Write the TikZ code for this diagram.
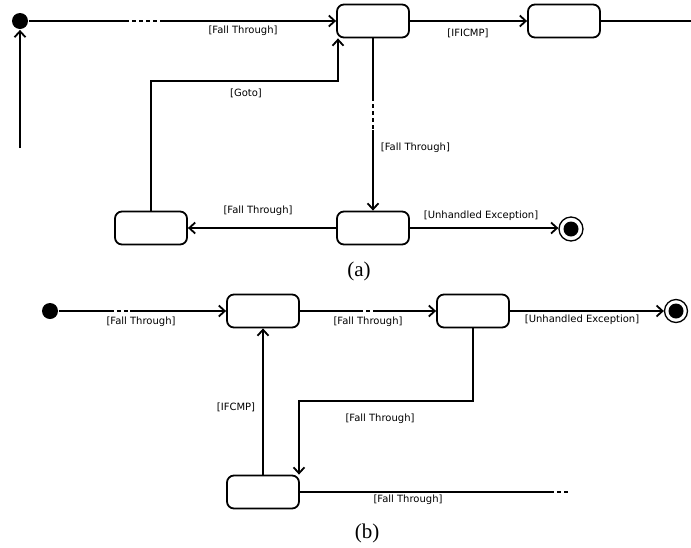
\documentclass[tikz,border=0pt]{standalone}
\usepackage{fontspec}
\newfontfamily\lblfont{DejaVu Sans}
\newfontfamily\capfont{Liberation Serif}
\usepackage{tikz}
\usetikzlibrary{arrows.meta}

\tikzset{
	state/.style={draw, rounded corners=7pt, minimum width=72pt, minimum height=33pt, inner sep=0pt, line width=1.8pt},
	initial/.style={circle, fill=black, minimum size=16pt, inner sep=0pt},
	final/.style={circle, draw, line width=1.3pt, minimum size=24pt, inner sep=0pt, path picture={\fill[black] (path picture bounding box.center) circle (7.5pt);}},
	lbl/.style={font=\lblfont\fontsize{10}{12}\selectfont, inner sep=0pt},
	caption/.style={font=\capfont\fontsize{21}{24}\selectfont, inner sep=0pt},
	dashpart/.style={dash pattern=on 4pt off 3pt}
}

\begin{document}
\begin{tikzpicture}[x=1pt, y=-1pt, line width=1.8pt, >={Straight Barb[length=6pt,width=11pt]}]
	\useasboundingbox (0,0) rectangle (691,547);
	% (a)
	\node[initial] (ainit) at (20,21) {};
	\node[state] (as1) at (373,21) {};
	\node[state] (as2) at (564,21) {};
	\node[state] (as3) at (151,228) {};
	\node[state] (as4) at (373,228) {};
	\node[final] (afin) at (571,229) {};
	\coordinate (ain) at (20,148);
	\coordinate (aout) at (691,21);
	\coordinate (ad1) at (125,21);
	\coordinate (ad2) at (163,21);
	\coordinate (ad3) at (373,97);
	\coordinate (ad4) at (373,130);
	\coordinate (agoto) at (338,81);
	\draw (ainit) -- (ad1);
	\draw[dashpart] (ad1) -- (ad2);
	\draw[->] (ad2) -- (as1.west |- ad2);
	\draw[->] (as1) -- (as2);
	\draw (as2) -- (aout);
	\draw[->] (ain) -- (ainit);
	\draw[->] (as3.north) |- (agoto) -- (agoto |- as1.south);
	\draw (as1.south) -- (ad3);
	\draw[dashpart] (ad3) -- (ad4);
	\draw[->] (ad4) -- (as4.north);
	\draw[->] (as4) -- (as3);
	\draw[->] (as4.east) -- (afin.west |- as4.east);
	\node[lbl] (al1) at (243,31) {[Fall Through]};
	\node[lbl] (al2) at (468,33) {[IFICMP]};
	\node[lbl] (al3) at (246,93) {[Goto]};
	\node[lbl, anchor=west] (al4) at (380,148) {[Fall Through]};
	\node[lbl] (al5) at (258,211) {[Fall Through]};
	\node[lbl] (al6) at (481,216) {[Unhandled Exception]};
	\node[caption] (acap) at (359,271) {(a)};
	% (b)
	\node[initial] (binit) at (50,311) {};
	\node[state] (bs1) at (263,311) {};
	\node[state] (bs2) at (473,311) {};
	\node[state] (bs3) at (263,492) {};
	\node[final, minimum size=23pt] (bfin) at (676,311) {};
	\coordinate (bd1) at (110,311);
	\coordinate (bd2) at (130,311);
	\coordinate (bd3) at (359,311);
	\coordinate (bd4) at (377,311);
	\coordinate (bd5) at (550,492);
	\coordinate (bd6) at (568,492);
	\coordinate (bturn) at (299,401);
	\draw (binit) -- (bd1);
	\draw[dashpart] (bd1) -- (bd2);
	\draw[->] (bd2) -- (bs1.west |- bd2);
	\draw (bs1.east |- bd3) -- (bd3);
	\draw[dashpart] (bd3) -- (bd4);
	\draw[->] (bd4) -- (bs2.west |- bd4);
	\draw[->] (bs2.east) -- (bfin.west |- bs2.east);
	\draw[->] (bs2.south) |- (bturn) -- (bturn |- bs3.north);
	\draw[->] (bs3) -- (bs1);
	\draw (bs3.east) -- (bd5);
	\draw[dashpart] (bd5) -- (bd6);
	\node[lbl] (bl1) at (141,322) {[Fall Through]};
	\node[lbl] (bl2) at (368,322) {[Fall Through]};
	\node[lbl] (bl3) at (582,320) {[Unhandled Exception]};
	\node[lbl] (bl4) at (236,407) {[IFCMP]};
	\node[lbl] (bl5) at (380,419) {[Fall Through]};
	\node[lbl] (bl6) at (408,500) {[Fall Through]};
	\node[caption] (bcap) at (367,533) {(b)};
\end{tikzpicture}
\end{document}
